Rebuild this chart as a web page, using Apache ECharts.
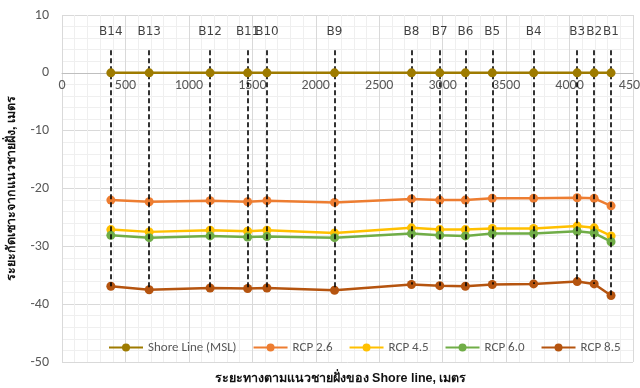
<!DOCTYPE html>
<html><head><meta charset="utf-8">
<script src="https://cdn.jsdelivr.net/npm/echarts@6/dist/echarts.min.js"></script>
<style>html,body{margin:0;padding:0;background:#fff}#c{width:640px;height:388px}</style>
</head><body><div id="c"></div>
<script>
const stations = ['B14','B13','B12','B11','B10','B9','B8','B7','B6','B5','B4','B3','B2','B1'];
const distance = [385, 687, 1167, 1463, 1615, 2148, 2754, 2977, 3179, 3391, 3717, 4060, 4194, 4327];
const shoreLine = [0,0,0,0,0,0,0,0,0,0,0,0,0,0];
const rcp26 = [-22.0,-22.3,-22.1,-22.3,-22.1,-22.4,-21.8,-22.0,-22.0,-21.7,-21.7,-21.6,-21.7,-23.0];
const rcp45 = [-27.1,-27.5,-27.2,-27.4,-27.2,-27.7,-26.8,-27.1,-27.1,-26.9,-26.9,-26.5,-26.8,-28.2];
const rcp60 = [-28.1,-28.5,-28.2,-28.4,-28.3,-28.5,-27.8,-28.1,-28.2,-27.8,-27.8,-27.4,-27.7,-29.2];
const rcp85 = [-36.9,-37.5,-37.2,-37.3,-37.2,-37.6,-36.6,-36.8,-36.9,-36.6,-36.5,-36.1,-36.5,-38.5];
const dashTop = 3.9;
const labelY = 7.0;
const seriesNames = ['Shore Line (MSL)','RCP 2.6','RCP 4.5','RCP 6.0','RCP 8.5'];
const seriesData = [shoreLine, rcp26, rcp45, rcp60, rcp85];
const colors = ['#9E7B00','#ED7D31','#FFC000','#70AD47','#B5540F'];

const font = 'Calibri, Carlito, "Open Sans", "Noto Sans", sans-serif';
const chart = echarts.init(document.getElementById('c'));
const pts = arr => distance.map((d,i)=>[d, arr[i]]);

const lineSeries = seriesNames.map((n,k)=>({
  name:n, type:'line', data: pts(seriesData[k]),
  symbol:'circle', symbolSize:9, showSymbol:true,
  lineStyle:{color:colors[k], width:2.5},
  itemStyle:{color:colors[k]},
  z: 2 + (k===0?5:0)
}));

const dashSeries = {
  name:'dash', type:'line', data:[], silent:true, z:10,
  markLine:{
    silent:true, symbol:['none','none'], animation:false,
    lineStyle:{color:'#000', type:[5,3], width:1.6},
    label:{show:false},
    data: distance.map((d,i)=>[{coord:[d,dashTop]},{coord:[d,rcp85[i]]}])
  }
};
const labelSeries = {
  name:'labels', type:'scatter', symbolSize:0, z:11, silent:true,
  data: distance.map((d,i)=>({value:[d,labelY], name:stations[i]})),
  label:{show:true, position:'inside', formatter:p=>p.name, color:'#111', fontSize:12, fontFamily:'Tahoma, "DejaVu Sans", sans-serif'}
};

const gridTop = 15, gridBottom = 26, H = 388;
const plotH = H - gridTop - gridBottom;
const zeroOffset = -(plotH * 50/60);

chart.setOption({
  animation:false,
  grid:{left:62, right:7, top:gridTop, bottom:gridBottom, containLabel:false, outerBoundsMode:'none'},
  legend:{
    data:seriesNames, left:103, top:336, itemWidth:34, itemHeight:10, itemGap:16,
    textStyle:{color:'#595959', fontSize:13, fontFamily:font}
  },
  xAxis:{
    type:'value', min:0, max:4500, interval:500, offset: zeroOffset,
    name:'ระยะทางตามแนวชายฝั่งของ Shore line, เมตร', nameLocation:'middle', nameGap: -zeroOffset + 10,
    nameTextStyle:{fontWeight:'bold', fontSize:12.5, color:'#111', padding:[0,14,0,0]},
    axisLine:{onZero:false, lineStyle:{color:'#BFBFBF', width:1}},
    axisTick:{show:false},
    axisLabel:{color:'#595959', fontSize:14, fontFamily:font, margin:6, formatter:v=>String(v), hideOverlap:false},
    splitLine:{show:true, lineStyle:{color:'#D9D9D9'}},
    minorTick:{show:false, splitNumber:5},
    minorSplitLine:{show:true, lineStyle:{color:'#EFEFEF'}}
  },
  yAxis:{
    type:'value', min:-50, max:10, interval:10,
    name:'ระยะกัดเซาะจากแนวชายฝั่ง, เมตร', nameLocation:'middle', nameGap:44, nameRotate:90,
    nameTextStyle:{fontWeight:'bold', fontSize:12.5, color:'#111'},
    axisLine:{show:false}, axisTick:{show:false},
    axisLabel:{color:'#595959', fontSize:14, fontFamily:font, margin:13},
    splitLine:{show:true, lineStyle:{color:'#D9D9D9'}},
    minorTick:{show:false, splitNumber:5},
    minorSplitLine:{show:true, lineStyle:{color:'#EFEFEF'}}
  },
  series:[...lineSeries, dashSeries, labelSeries]
});
</script></body></html>
